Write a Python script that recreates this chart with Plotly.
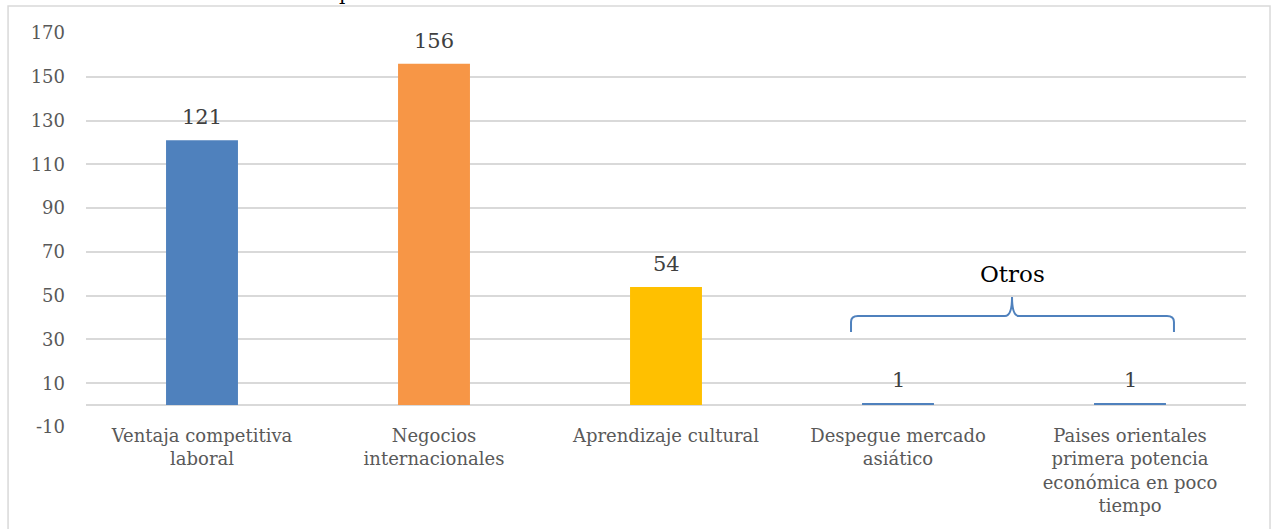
import plotly.graph_objects as go

categories = [
    "Ventaja competitiva<br>laboral",
    "Negocios<br>internacionales",
    "Aprendizaje cultural",
    "Despegue mercado<br>asiático",
    "Paises orientales<br>primera potencia<br>económica en poco<br>tiempo",
]
values = [121, 156, 54, 1, 1]
bar_colors = ["#4F81BD", "#F79646", "#FFC000", "#4F81BD", "#4F81BD"]
y_ticks = [-10, 10, 30, 50, 70, 90, 110, 130, 150, 170]
y_tick_labels = [str(v) for v in y_ticks]
group_label = "Otros"

FONT = "DejaVu Serif"

fig = go.Figure()
fig.add_trace(go.Bar(
    x=categories, y=values,
    marker=dict(color=bar_colors, line=dict(width=0)),
    width=0.31,
    hoverinfo="x+y",
))

for c, v in zip(categories, values):
    fig.add_annotation(x=c, y=v, text=str(v), showarrow=False,
                       yanchor="bottom", yshift=9,
                       font=dict(family=FONT, size=21, color="#404040"))

fig.add_annotation(xref="paper", yref="paper", x=0.7983, y=0.3299,
                   text=group_label, showarrow=False,
                   xanchor="center", yanchor="bottom", yshift=8,
                   font=dict(family=FONT, size=23, color="#000000"))

# brace over "Otros"
brace = ("M 0.6595,0.2411 L 0.6595,0.2665 Q 0.6595,0.2817 0.6655,0.2817 "
         "L 0.7922,0.2817 Q 0.7983,0.2817 0.7983,0.3299 "
         "Q 0.7983,0.2817 0.8043,0.2817 L 0.9319,0.2817 "
         "Q 0.9379,0.2817 0.9379,0.2665 L 0.9379,0.2411")
fig.add_shape(type="path", xref="paper", yref="paper", path=brace,
              line=dict(color="#4F81BD", width=2))

# outer frame
fig.add_shape(type="rect", xref="paper", yref="paper",
              x0=-0.0672, x1=1.0207, y0=-0.30, y1=1.0685,
              line=dict(color="#D9D9D9", width=1.5), layer="below")

# cut-off title fragment
fig.add_annotation(xref="paper", yref="paper", x=0.2233, y=1.0838,
                   text="p", showarrow=False, xanchor="center",
                   yanchor="middle", yshift=7,
                   font=dict(family=FONT, size=20, color="#000000"))

fig.update_layout(
    width=1275, height=529,
    margin=dict(l=86, r=29, t=33, b=102),
    paper_bgcolor="white", plot_bgcolor="white",
    showlegend=False,
    font=dict(family=FONT, size=17, color="#595959"),
    xaxis=dict(showgrid=False, showline=False, ticks="",
               tickfont=dict(family=FONT, size=18, color="#595959"),
               ticklabelstandoff=-4),
    yaxis=dict(range=[-10, 170], tickvals=y_ticks, ticktext=y_tick_labels,
               showgrid=True, gridcolor="#D9D9D9", gridwidth=1.5,
               zeroline=True, zerolinecolor="#D9D9D9", zerolinewidth=1.5,
               showline=False, ticks="", ticklabelstandoff=20,
               tickfont=dict(family=FONT, size=18, color="#595959")),
)

fig.write_html("out.html",
               config={"displayModeBar": False},
               post_script="document.body.style.margin='0';document.body.style.overflow='hidden';")
